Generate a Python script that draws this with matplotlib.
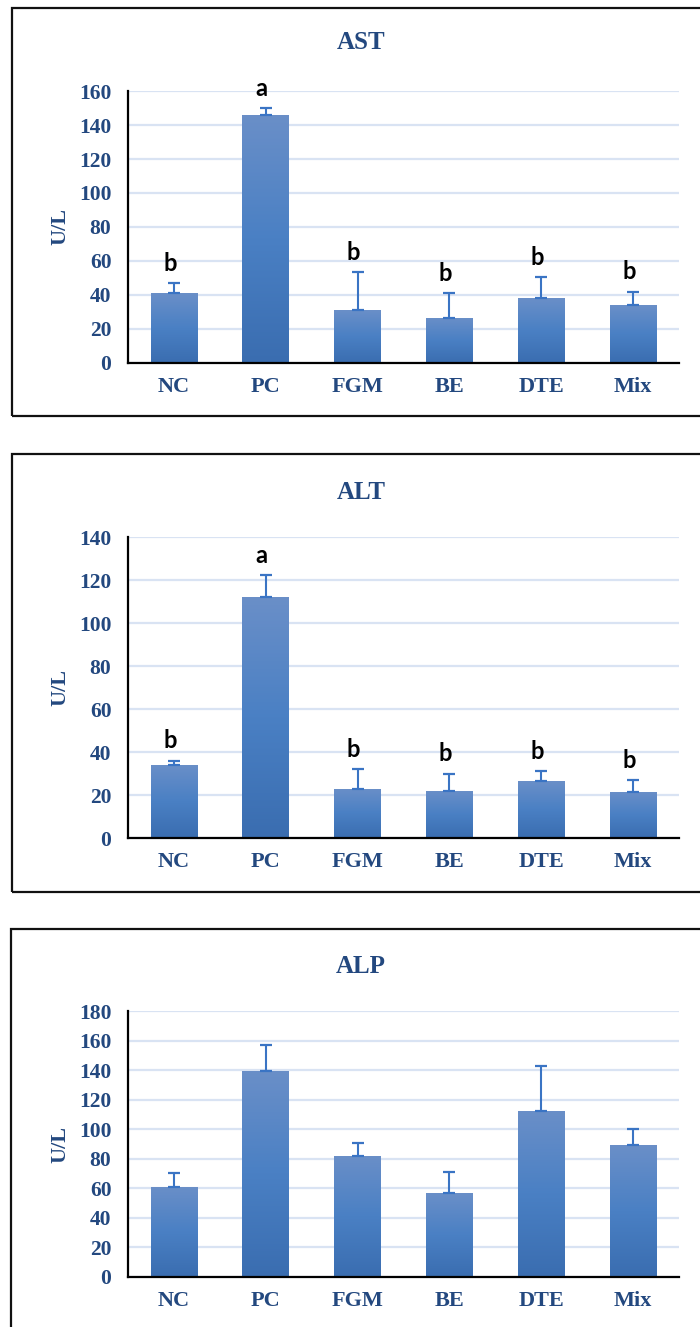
import numpy as np
import matplotlib
matplotlib.use('Agg')
import matplotlib.pyplot as plt
from matplotlib.patches import Rectangle
from matplotlib.colors import LinearSegmentedColormap

# groups on the x axis
groups = ['NC', 'PC', 'FGM', 'BE', 'DTE', 'Mix']

# AST (U/L)
ast_mean = [41, 146, 31, 26.5, 38, 34]
ast_err = [6, 4, 22.5, 14.5, 12.5, 8]
ast_letters = ['b', 'a', 'b', 'b', 'b', 'b']

# ALT (U/L)
alt_mean = [34, 112, 23, 22, 26.5, 21.5]
alt_err = [2, 10.3, 9, 8, 4.5, 5.5]
alt_letters = ['b', 'a', 'b', 'b', 'b', 'b']

# ALP (U/L)
alp_mean = [61, 139.5, 82, 56.5, 112.5, 89]
alp_err = [9.5, 17.5, 9, 14.5, 30.5, 11]

text_col = '#23487f'
err_col = '#3a74c4'
grid_col = '#d9e3f3'
bar_cmap = LinearSegmentedColormap.from_list('bar', ['#3a6db0', '#4a80c4', '#6a8fc8'])

fig = plt.figure(figsize=(7, 13.27), dpi=100)

# panel frames (figure coords)
frames = [(12 / 700, 0.6865, 0.9936), (12 / 700, 0.3278, 0.6579), (11 / 700, -0.01, 0.2999)]
for x0, y0, y1 in frames:
    fig.patches.append(Rectangle((x0, y0), 1.1, y1 - y0, transform=fig.transFigure,
                                 fill=False, edgecolor='#111111', linewidth=1.6))

panels = [
    ('AST', ast_mean, ast_err, ast_letters, 160, [0.183, 0.7265, 0.787, 0.2049], 0.9676),
    ('ALT', alt_mean, alt_err, alt_letters, 140, [0.183, 0.3685, 0.787, 0.2268], 0.6292),
    ('ALP', alp_mean, alp_err, None, 180, [0.183, 0.0377, 0.787, 0.2004], 0.2720),
]

grad = np.linspace(0, 1, 256).reshape(-1, 1)

for title, mean, err, letters, ymax, rect, ty in panels:
    ax = fig.add_axes(rect)
    x = np.arange(len(groups))
    bars = ax.bar(x, mean, width=0.51, color='#4a7fc2', zorder=2)
    # vertical gradient fill, clipped to each bar
    for b in bars:
        im = ax.imshow(grad, cmap=bar_cmap, origin='lower', aspect='auto',
                       extent=[b.get_x(), b.get_x() + b.get_width(), 0, b.get_height()],
                       zorder=2.5)
        im.set_clip_path(b)
    ax.errorbar(x, mean, yerr=[np.zeros(len(err)), err], fmt='none', ecolor=err_col,
                elinewidth=1.5, capsize=4.5, capthick=1.6, zorder=3)
    if letters:
        for xi, m, e, lab in zip(x, mean, err, letters):
            ax.annotate(lab, (xi, m + e), xytext=(-3, 6), textcoords='offset points',
                        ha='center', va='bottom', fontsize=17, fontweight='bold',
                        family='Lato', color='black', annotation_clip=False)

    ax.set_xlim(-0.5, len(groups) - 0.5)
    ax.set_ylim(0, ymax)
    ax.set_yticks(np.arange(0, ymax + 1, 20))
    ax.set_xticks(x)
    ax.set_xticklabels(groups)
    ax.grid(axis='y', color=grid_col, linewidth=1.6, zorder=0)
    ax.set_axisbelow(True)
    for s in ['top', 'right']:
        ax.spines[s].set_visible(False)
    for s in ['left', 'bottom']:
        ax.spines[s].set_linewidth(1.6)
        ax.spines[s].set_color('black')
    ax.tick_params(length=0)
    ax.tick_params(axis='y', pad=12)
    ax.tick_params(axis='x', pad=10)
    for lab in ax.get_yticklabels():
        lab.set_family('Liberation Serif')
        lab.set_fontweight('bold')
        lab.set_fontsize(15.5)
        lab.set_color(text_col)
    for lab in ax.get_xticklabels():
        lab.set_family('Liberation Serif')
        lab.set_fontweight('bold')
        lab.set_fontsize(16)
        lab.set_color(text_col)
    ax.set_ylabel('U/L', family='Liberation Serif', fontweight='bold', fontsize=16,
                  color=text_col)
    ax.yaxis.set_label_coords(-0.105, 0.5)
    fig.text(0.516, ty, title, ha='center', va='center', family='Liberation Serif',
             fontweight='bold', fontsize=18, color=text_col)

fig.savefig('out.png', dpi=100)
